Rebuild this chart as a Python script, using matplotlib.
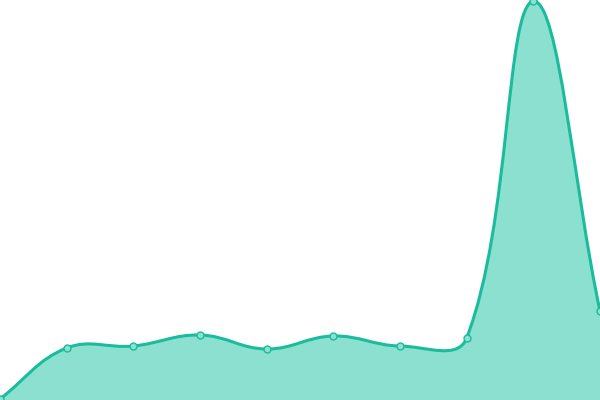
import numpy as np
from matplotlib import pyplot as plt
from matplotlib.path import Path
import matplotlib.patches as mpatches

# values (pixel height from the bottom)
labels = list(range(10))
values = [1, 52, 54, 65, 51, 64, 54, 62, 399, 89]

line_color = "#1abc9c"
fill_color = "#8be0cf"
tension = 0.4


def spline_path(ax, xs, ys, top, bottom):
    # chart.js style bezier, computed in pixel space
    pts = ax.transData.transform(np.column_stack([xs, ys]))
    n = len(pts)
    cps = []
    for i in range(n):
        prev = pts[max(i - 1, 0)]
        cur = pts[i]
        nxt = pts[min(i + 1, n - 1)]
        d01 = np.hypot(*(cur - prev))
        d12 = np.hypot(*(nxt - cur))
        tot = d01 + d12
        s01 = d01 / tot if tot else 0
        s12 = d12 / tot if tot else 0
        c1 = cur - tension * s01 * (nxt - prev)
        c2 = cur + tension * s12 * (nxt - prev)
        cps.append((c1, c2))
    # keep control points inside the plot area
    x0, y0 = ax.transData.transform((xs[0], bottom))
    x1, y1 = ax.transData.transform((xs[-1], top))
    clamp = lambda p: np.array([np.clip(p[0], x0, x1), np.clip(p[1], y0, y1)])
    verts = [pts[0]]
    codes = [Path.MOVETO]
    for i in range(n - 1):
        verts += [clamp(cps[i][1]), clamp(cps[i + 1][0]), pts[i + 1]]
        codes += [Path.CURVE4] * 3
    inv = ax.transData.inverted()
    return inv.transform(np.array(verts)), codes


fig = plt.figure(figsize=(6, 4), dpi=100)
ax = fig.add_axes([0, 0, 1, 1])
ax.set_xlim(0, 9)
ax.set_ylim(0, 400)
ax.axis("off")

verts, codes = spline_path(ax, labels, values, 400, 0)

# area under the curve
area_verts = np.vstack([verts, [[labels[-1], 0], [labels[0], 0], verts[0]]])
area_codes = codes + [Path.LINETO, Path.LINETO, Path.CLOSEPOLY]
ax.add_patch(mpatches.PathPatch(Path(area_verts, area_codes), facecolor=fill_color,
                                edgecolor="none", zorder=1))
ax.add_patch(mpatches.PathPatch(Path(verts, codes), facecolor="none",
                                edgecolor=line_color, linewidth=2.2, zorder=2,
                                clip_on=False, capstyle="round", joinstyle="round"))

ax.plot(labels, values, "o", markersize=5, markerfacecolor=fill_color,
        markeredgecolor=line_color, markeredgewidth=1, zorder=3, clip_on=False)

fig.savefig("out.png", dpi=100)
